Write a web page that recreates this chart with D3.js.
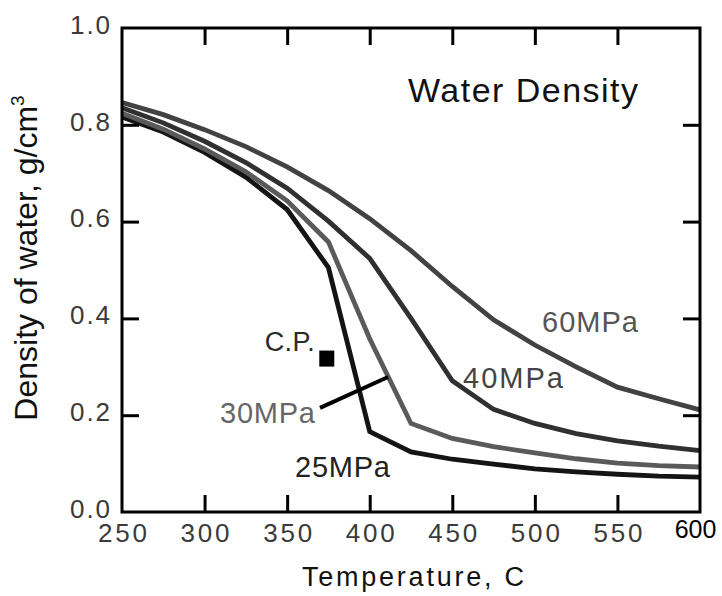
<!DOCTYPE html>
<html>
<head>
<meta charset="utf-8">
<script src="https://cdn.jsdelivr.net/npm/d3@7"></script>
<style>
  html, body { margin: 0; padding: 0; background: #fff; }
  svg { display: block; font-family: "Liberation Sans", Arial, Helvetica, sans-serif; }
</style>
</head>
<body>
<svg id="chart" width="722" height="596"></svg>
<script>
// ---------- data ----------
const temps = [250, 275, 300, 325, 350, 375, 400, 425, 450, 475, 500, 525, 550, 575, 600];
const rho25 = [0.816, 0.785, 0.743, 0.692, 0.625, 0.505, 0.166, 0.124, 0.109, 0.099, 0.089, 0.083, 0.078, 0.074, 0.072];
const rho30 = [0.824, 0.791, 0.750, 0.703, 0.643, 0.558, 0.358, 0.183, 0.152, 0.135, 0.122, 0.110, 0.101, 0.096, 0.093];
const rho40 = [0.835, 0.804, 0.766, 0.722, 0.669, 0.601, 0.524, 0.400, 0.271, 0.212, 0.183, 0.162, 0.147, 0.136, 0.127];
const rho60 = [0.846, 0.821, 0.790, 0.755, 0.713, 0.664, 0.606, 0.540, 0.466, 0.397, 0.345, 0.300, 0.258, 0.234, 0.211];
const seriesNames = ["25MPa", "30MPa", "40MPa", "60MPa"];
const xTickLabels = [250, 300, 350, 400, 450, 500, 550, 600];
const xInnerTicks = [300, 350, 400, 450, 500, 550];
const yTickLabels = [0.0, 0.2, 0.4, 0.6, 0.8, 1.0];
const yInnerTicks = [0.2, 0.4, 0.6, 0.8];
const critPoint = [374, 0.317];            // C.P. (T, density)
const leaderLine = [[369.9, 0.215], [411.1, 0.279]]; // from "30MPa" label to the 30MPa curve
const titleText = "Water Density";
const xLabelText = "Temperature, C";
const yLabelText = "Density of water, g/cm";

// ---------- layout ----------
const L = 122, R = 700, T = 28, B = 512;
const svg = d3.select("#chart");
const x = d3.scaleLinear().domain([250, 600]).range([L, R]);
const y = d3.scaleLinear().domain([0, 1]).range([B, T]);

const seriesData = [rho25, rho30, rho40, rho60];
const seriesStyle = {
  "25MPa": { color: "#141414" },
  "30MPa": { color: "#5a5a5a" },
  "40MPa": { color: "#303030" },
  "60MPa": { color: "#424242" }
};

// ---------- curves ----------
const line = d3.line().x(d => x(d[0])).y(d => y(d[1]));
seriesNames.forEach((name, i) => {
  const pts = temps.map((t, j) => [t, seriesData[i][j]]);
  svg.append("path")
    .datum(pts)
    .attr("d", line)
    .attr("fill", "none")
    .attr("stroke", seriesStyle[name].color)
    .attr("stroke-width", 4.8)
    .attr("stroke-linejoin", "miter");
});

// ---------- frame & ticks ----------
const tickLen = 17;
function styleAxis(g) {
  g.select(".domain").remove();
  g.selectAll(".tick line").attr("stroke", "#000").attr("stroke-width", 3);
}
svg.append("g").attr("transform", `translate(0,${B})`)
  .call(d3.axisBottom(x).tickValues(xTickLabels).tickSize(-tickLen).tickSizeOuter(0).tickPadding(12).tickFormat(d3.format("d")))
  .call(styleAxis)
  .call(g => {
    g.selectAll(".tick line").filter(d => d === 250 || d === 600).remove();
    g.selectAll(".tick text")
      .attr("font-size", 26).attr("fill", "#3a3a3a")
      .attr("font-family", "Liberation Sans, Arial, sans-serif")
      .attr("textLength", 49).attr("lengthAdjust", "spacing");
    g.selectAll(".tick text").filter(d => d === 600)
      .attr("textLength", null)
      .attr("font-size", 25).attr("fill", "#000")
      .attr("x", -5).attr("y", 8);
  });
svg.append("g").attr("transform", `translate(0,${T})`)
  .call(d3.axisTop(x).tickValues(xInnerTicks).tickSize(-tickLen).tickFormat(""))
  .call(styleAxis);
svg.append("g").attr("transform", `translate(${L},0)`)
  .call(d3.axisLeft(y).tickValues(yTickLabels).tickSize(-tickLen).tickPadding(12).tickFormat(d3.format(".1f")))
  .call(styleAxis)
  .call(g => {
    g.selectAll(".tick line").filter(d => d === 0 || d === 1).remove();
    g.selectAll(".tick text")
      .attr("font-size", 26).attr("fill", "#3a3a3a")
      .attr("font-family", "Liberation Sans, Arial, sans-serif")
      .attr("dy", "0.2em")
      .attr("textLength", 40).attr("lengthAdjust", "spacing");
  });
svg.append("g").attr("transform", `translate(${R},0)`)
  .call(d3.axisRight(y).tickValues(yInnerTicks).tickSize(-tickLen).tickFormat(""))
  .call(styleAxis);

svg.append("rect")
  .attr("x", L).attr("y", T).attr("width", R - L).attr("height", B - T)
  .attr("fill", "none").attr("stroke", "#000").attr("stroke-width", 3);

// ---------- annotations ----------
svg.append("line")
  .attr("x1", x(leaderLine[0][0])).attr("y1", y(leaderLine[0][1]))
  .attr("x2", x(leaderLine[1][0])).attr("y2", y(leaderLine[1][1]))
  .attr("stroke", "#000").attr("stroke-width", 4);

svg.append("rect")
  .attr("x", x(critPoint[0]) - 7.5).attr("y", y(critPoint[1]) - 8)
  .attr("width", 15).attr("height", 16).attr("fill", "#000");

svg.append("text")
  .attr("x", x(critPoint[0]) - 62).attr("y", y(critPoint[1]) - 8)
  .attr("font-size", 27).attr("fill", "#2a2a2a")
  .attr("textLength", 50).attr("lengthAdjust", "spacing")
  .text("C.P.");

const labelPos = {
  "60MPa": { x: 542, y: 332, w: 96, fill: "#555" },
  "40MPa": { x: 463, y: 388, w: 100, fill: "#444" },
  "30MPa": { x: 220, y: 423, w: 95, fill: "#666" },
  "25MPa": { x: 295, y: 477, w: 95, fill: "#222" }
};
seriesNames.forEach(name => {
  const p = labelPos[name];
  svg.append("text")
    .attr("x", p.x).attr("y", p.y)
    .attr("font-size", 29).attr("fill", p.fill)
    .attr("textLength", p.w).attr("lengthAdjust", "spacing")
    .text(name);
});

svg.append("text")
  .attr("x", 408).attr("y", 102)
  .attr("font-size", 34).attr("fill", "#111")
  .attr("textLength", 230).attr("lengthAdjust", "spacing")
  .text(titleText);

svg.append("text")
  .attr("x", 413).attr("y", 586)
  .attr("text-anchor", "middle")
  .attr("font-size", 27).attr("fill", "#111")
  .attr("textLength", 222).attr("lengthAdjust", "spacing")
  .text(xLabelText);

const yl = svg.append("text")
  .attr("transform", "translate(37,258) rotate(-90)")
  .attr("text-anchor", "middle")
  .attr("font-size", 32).attr("fill", "#111");
yl.append("tspan").text(yLabelText);
yl.append("tspan").attr("font-size", 19).attr("dy", -13).text("3");
</script>
</body>
</html>
